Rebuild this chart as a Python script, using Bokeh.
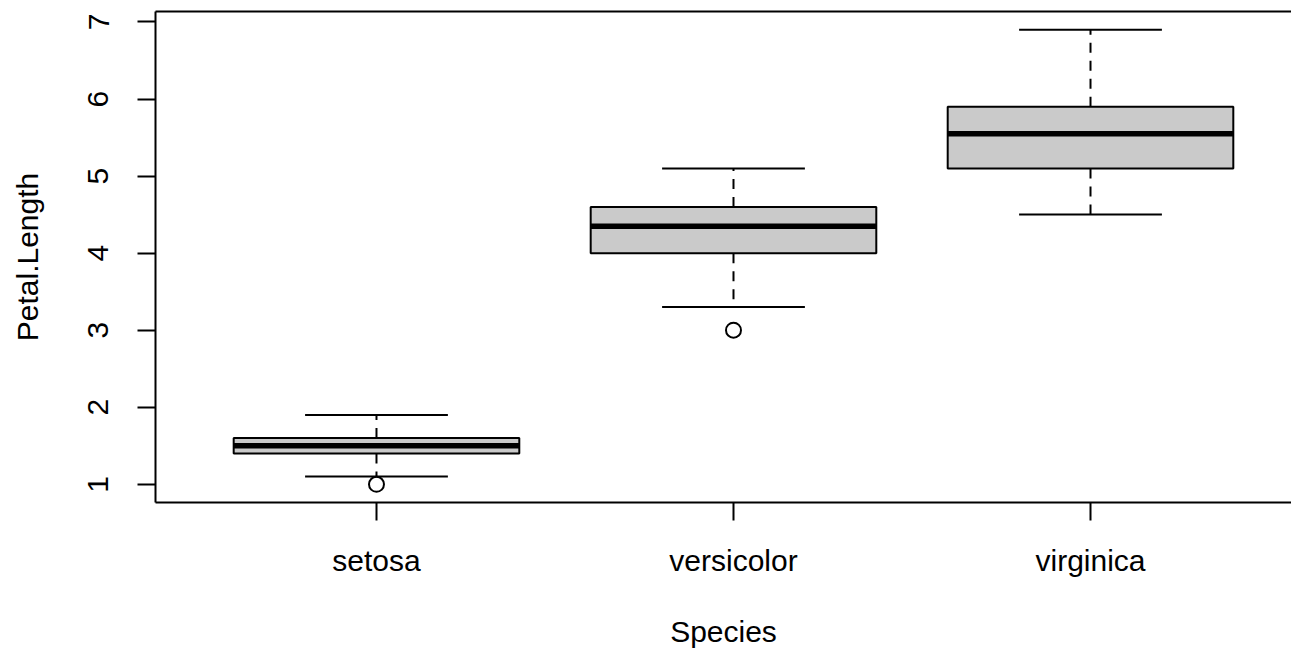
from bokeh.plotting import figure
from bokeh.models import LinearAxis, FixedTicker, Range1d, ColumnDataSource
from bokeh.embed import file_html
from bokeh.resources import INLINE

# ---- data ----
species = ["setosa", "versicolor", "virginica"]
lower_whisker = [1.1, 3.3, 4.5]
q1 = [1.4, 4.0, 5.1]
median = [1.5, 4.35, 5.55]
q3 = [1.6, 4.6, 5.9]
upper_whisker = [1.9, 5.1, 6.9]
outlier_species = ["setosa", "versicolor"]
outlier_values = [1.0, 3.0]
y_ticks = [1, 2, 3, 4, 5, 6, 7]

FONT = "Liberation Sans"
FS = "30px"

positions = [i + 1 for i in range(len(species))]
box_half = 0.4
cap_half = 0.2

src = ColumnDataSource(dict(
    pos=positions,
    left=[x - box_half for x in positions],
    right=[x + box_half for x in positions],
    cap_l=[x - cap_half for x in positions],
    cap_r=[x + cap_half for x in positions],
    lw=lower_whisker, q1=q1, med=median, q3=q3, uw=upper_whisker,
))
out_src = ColumnDataSource(dict(
    x=[species.index(s) + 1 for s in outlier_species],
    y=outlier_values,
))

p = figure(width=1291, height=650,
           x_range=Range1d(0.381, 3.563), y_range=Range1d(0.764, 7.136),
           output_backend="svg", toolbar_location=None,
           x_axis_location=None, y_axis_location=None,
           min_border_left=155, min_border_right=0,
           min_border_top=11, min_border_bottom=148)
p.outline_line_color = None
for g in p.grid:
    g.visible = False
p.background_fill_color = "white"
p.border_fill_color = "white"

# whiskers (dashed)
p.segment(x0="pos", y0="q3", x1="pos", y1="uw", source=src,
          line_color="black", line_width=2, line_dash="10 8")
p.segment(x0="pos", y0="q1", x1="pos", y1="lw", source=src,
          line_color="black", line_width=2, line_dash="10 8")
# caps
p.segment(x0="cap_l", y0="uw", x1="cap_r", y1="uw", source=src,
          line_color="black", line_width=2)
p.segment(x0="cap_l", y0="lw", x1="cap_r", y1="lw", source=src,
          line_color="black", line_width=2)
# boxes
p.quad(left="left", right="right", bottom="q1", top="q3", source=src,
       fill_color="#CACACA", line_color="black", line_width=2)
# medians
p.segment(x0="left", y0="med", x1="right", y1="med", source=src,
          line_color="black", line_width=5.5)
# outliers
p.scatter(x="x", y="y", source=out_src, marker="circle", size=15,
          fill_color=None, line_color="black", line_width=2)


def style(ax, label_standoff, title_standoff):
    ax.axis_line_width = 2
    ax.axis_line_color = "black"
    ax.major_tick_line_width = 2
    ax.major_tick_line_color = "black"
    ax.major_tick_out = 18
    ax.major_tick_in = 0
    ax.minor_tick_line_color = None
    ax.major_label_text_font = FONT
    ax.major_label_text_font_size = FS
    ax.major_label_text_color = "black"
    ax.major_label_standoff = label_standoff
    ax.axis_label_text_font = FONT
    ax.axis_label_text_font_size = FS
    ax.axis_label_text_font_style = "normal"
    ax.axis_label_text_color = "black"
    ax.axis_label_standoff = title_standoff


yaxis = LinearAxis(ticker=FixedTicker(ticks=y_ticks), axis_label="Petal.Length",
                   major_label_orientation="vertical")
style(yaxis, 29, 42)
p.add_layout(yaxis, "left")

xaxis = LinearAxis(ticker=FixedTicker(ticks=positions), axis_label="Species",
                   major_label_overrides={float(x): s for x, s in zip(positions, species)})
style(xaxis, 23, 35)
p.add_layout(xaxis, "below")

top = LinearAxis(ticker=FixedTicker(ticks=[]), axis_line_width=2, axis_line_color="black",
                 major_tick_line_color=None, minor_tick_line_color=None,
                 major_tick_out=0, major_tick_in=0, major_label_standoff=0,
                 major_label_text_font_size="0px")
p.add_layout(top, "above")

open("out.html", "w").write(file_html(p, INLINE))
